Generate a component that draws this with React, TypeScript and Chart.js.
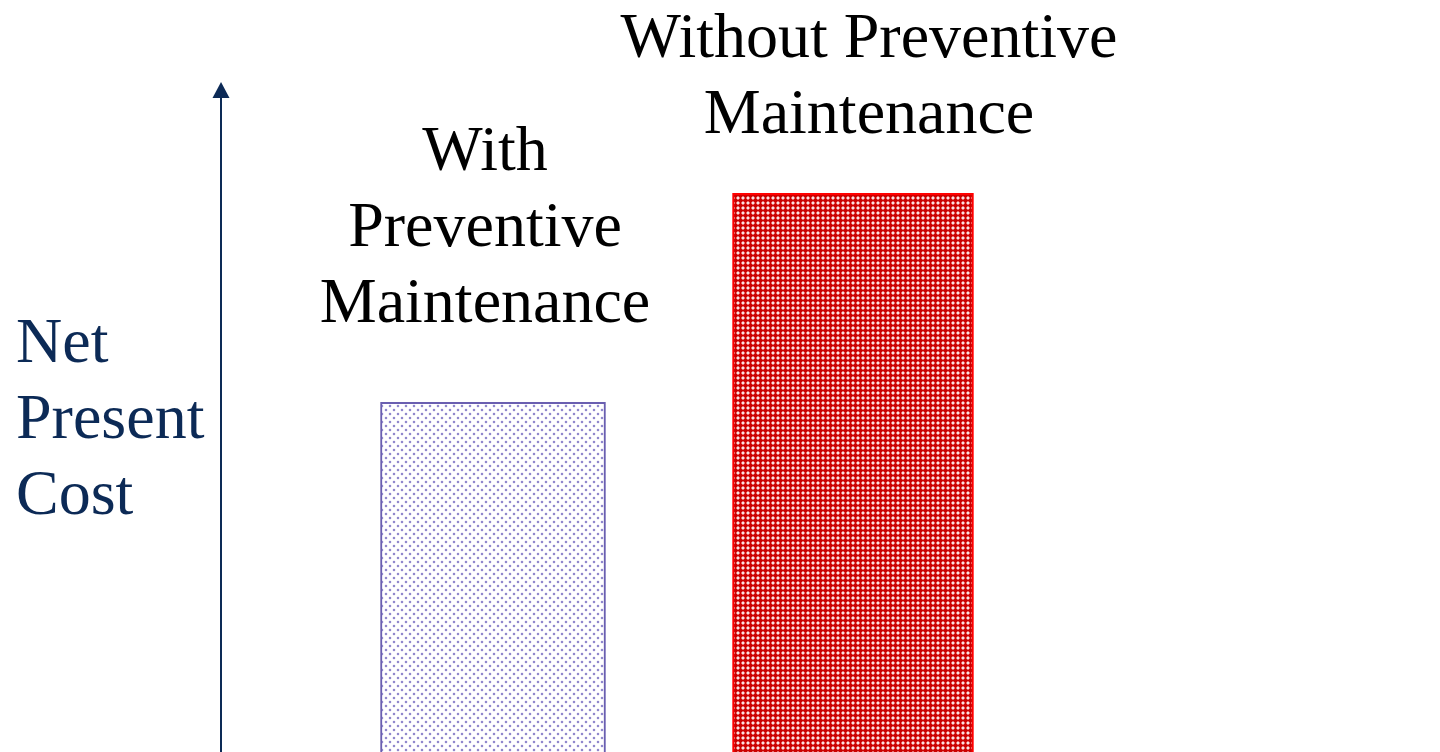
import React, { useEffect, useRef } from "react";
import { Chart, registerables } from "chart.js";

Chart.register(...registerables);

// Scenario categories and their net present cost (relative units)
const categories: string[][] = [
  ["With", "Preventive", "Maintenance"],
  ["Without Preventive", "Maintenance"],
];
const netPresentCost: number[] = [52.2, 83.4];
const axisTitle: string[] = ["Net", "Present", "Cost"];

const W = 1440;
const H = 752;
const NAVY = "#0c2a56";
const FONT = '64px "Liberation Serif", "Times New Roman", serif';
const LINE_H = 76;

// Per-bar styling: thickness, border and label placement relative to the bar top
const barStyles = [
  { thickness: 225, border: "#6a5fb0", labelDx: -8, labelGap: 80 },
  { thickness: 241, border: "#ff0000", labelDx: 16, labelGap: 60 },
];

// Dotted fill: each dot is a 2x2 core with a softer one-pixel halo
function makeDotPattern(
  size: number,
  bg: string,
  core: string,
  halo: string,
  dots: [number, number][]
): CanvasPattern | string {
  const c = document.createElement("canvas");
  c.width = size;
  c.height = size;
  const ctx = c.getContext("2d");
  if (!ctx) return bg;
  ctx.fillStyle = bg;
  ctx.fillRect(0, 0, size, size);
  for (const [x, y] of dots) {
    ctx.fillStyle = halo;
    ctx.fillRect(x - 1, y, 4, 2);
    ctx.fillRect(x, y - 1, 2, 4);
    ctx.fillStyle = core;
    ctx.fillRect(x, y, 2, 2);
  }
  const p = ctx.createPattern(c, "repeat");
  return p || bg;
}

const annotations = {
  id: "annotations",
  afterDatasetsDraw(chart: any) {
    const { ctx, chartArea } = chart;
    ctx.save();

    // vertical axis with arrow head
    const ax = chartArea.left - 92;
    ctx.strokeStyle = NAVY;
    ctx.fillStyle = NAVY;
    ctx.lineWidth = 2;
    ctx.beginPath();
    ctx.moveTo(ax, chartArea.top + 14);
    ctx.lineTo(ax, chartArea.bottom);
    ctx.stroke();
    ctx.beginPath();
    ctx.moveTo(ax, chartArea.top);
    ctx.lineTo(ax - 8.5, chartArea.top + 16);
    ctx.lineTo(ax + 8.5, chartArea.top + 16);
    ctx.closePath();
    ctx.fill();

    // axis title
    ctx.font = FONT;
    ctx.textAlign = "left";
    ctx.textBaseline = "alphabetic";
    ctx.fillStyle = NAVY;
    axisTitle.forEach((t, i) => ctx.fillText(t, 16, 362 + i * LINE_H));

    // bar labels
    ctx.fillStyle = "#000000";
    ctx.textAlign = "center";
    chart.data.datasets.forEach((ds: any, di: number) => {
      const meta = chart.getDatasetMeta(di);
      const el = meta.data[di];
      if (!el) return;
      const st = barStyles[di];
      const lines: string[] = categories[di];
      const lastBase = el.y - st.labelGap;
      lines.forEach((t, i) => {
        const y = lastBase - (lines.length - 1 - i) * LINE_H;
        ctx.fillText(t, el.x + st.labelDx, y);
      });
    });
    ctx.restore();
  },
};

export default function App() {
  const ref = useRef<HTMLCanvasElement | null>(null);

  useEffect(() => {
    if (!ref.current) return;
    const fills = [
      makeDotPattern(8, "#ffffff", "#9088cc", "#f1eff9", [[1, 1], [5, 5]]),
      makeDotPattern(5, "#cc0000", "#fbe0e0", "#e46a6a", [[2, 2]]),
    ];
    const labels = categories.map((c) => c.join(" "));
    const datasets = netPresentCost.map((v, i) => ({
      label: labels[i],
      data: netPresentCost.map((_, j) => (j === i ? v : null)),
      backgroundColor: fills[i],
      borderColor: barStyles[i].border,
      borderWidth: 2,
      barThickness: barStyles[i].thickness,
      grouped: false,
    }));

    const chart = new Chart(ref.current, {
      type: "bar",
      data: { labels, datasets: datasets as any },
      options: {
        responsive: false,
        animation: false,
        devicePixelRatio: 1,
        layout: { padding: { left: 313, right: 407, top: 82, bottom: 0 } },
        plugins: {
          legend: { display: false },
          tooltip: { enabled: false },
        },
        scales: {
          x: { display: false, offset: true },
          y: { display: false, min: 0, max: 100 },
        },
      },
      plugins: [annotations],
    });
    return () => chart.destroy();
  }, []);

  return (
    <div
      style={{
        position: "fixed",
        left: 0,
        top: 0,
        width: W,
        height: H,
        background: "#ffffff",
      }}
    >
      <canvas ref={ref} width={W} height={H} style={{ display: "block" }} />
    </div>
  );
}
